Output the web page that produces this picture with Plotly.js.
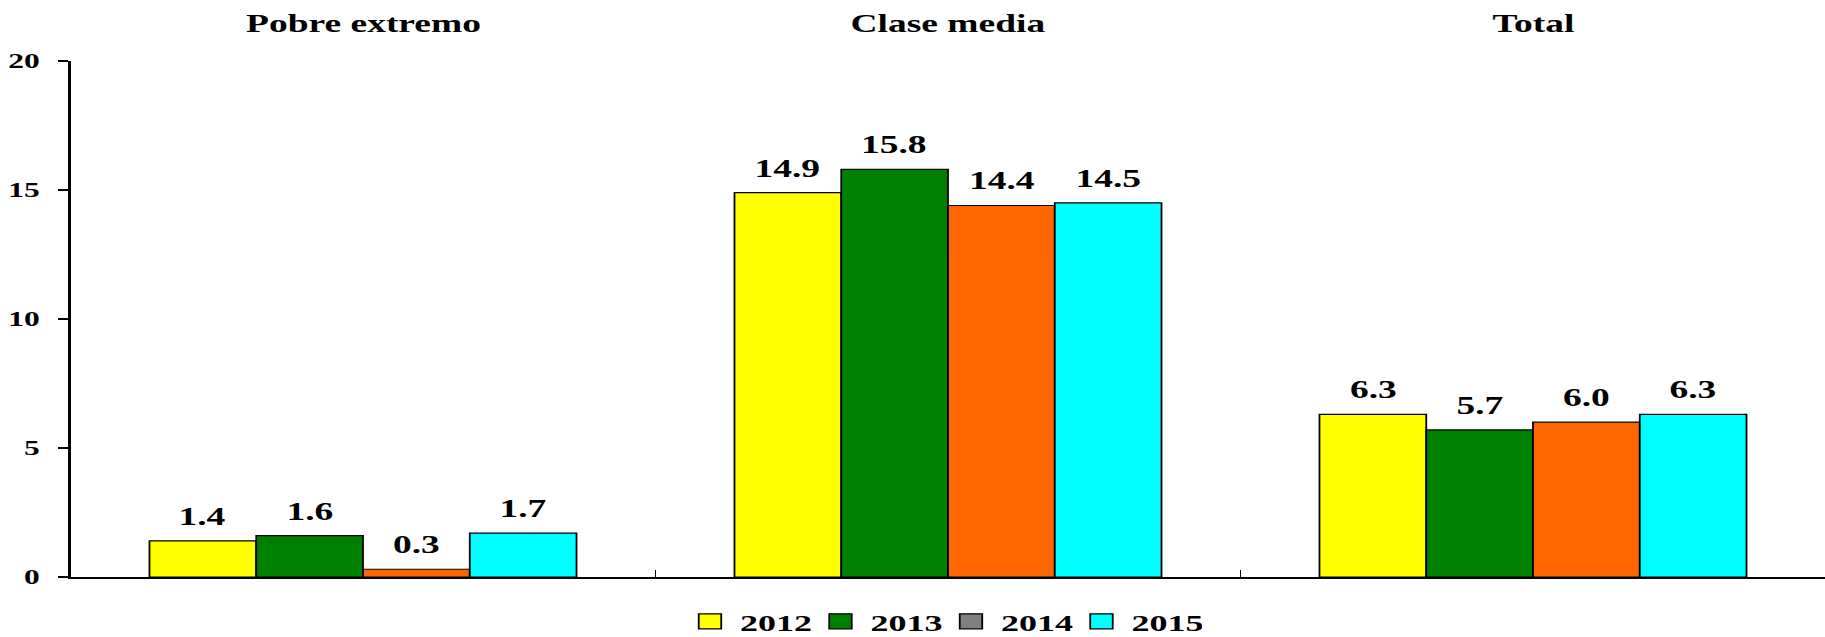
<!DOCTYPE html>
<html>
<head>
<meta charset="utf-8">
<script src="https://cdn.plot.ly/plotly-3.0.1.min.js"></script>
<style>
  html, body { margin: 0; padding: 0; background: #ffffff; overflow: hidden; }
  /* the reference is horizontally stretched, so draw narrow and stretch */
  #chart { width: 1216.67px; height: 637px; transform: scaleX(1.5); transform-origin: 0 0; }
</style>
</head>
<body>
<div id="chart"></div>
<script>
const categories = ["Pobre extremo", "Clase media", "Total"];
const years = ["2012", "2013", "2014", "2015"];
const barColors = ["#ffff00", "#008000", "#ff6600", "#00ffff"];
const legendColors = ["#ffff00", "#008000", "#808080", "#00ffff"];
const values = [
  [1.4, 14.9, 6.3],
  [1.6, 15.8, 5.7],
  [0.3, 14.4, 6.0],
  [1.7, 14.5, 6.3],
];
const yTicks = [0, 5, 10, 15, 20];

const serif = "'Liberation Serif', 'Times New Roman', serif";
const W = 1216.67, H = 637;
const margin = { l: 47, r: 0, t: 61, b: 60 };
const bargap = 0.27;

const traces = years.map((yr, i) => ({
  type: "bar",
  name: yr,
  x: categories,
  y: values[i],
  marker: { color: barColors[i], line: { color: "#000000", width: 1.2 } },
  showlegend: false,
}));

// legend swatches as drawn in the original (2014 shown grey)
years.forEach((yr, i) => {
  traces.push({
    type: "scatter",
    mode: "markers",
    name: yr,
    x: [null],
    y: [null],
    marker: { symbol: "square", size: 15, color: legendColors[i], line: { color: "#000000", width: 1.2 } },
    hoverinfo: "skip",
  });
});

// value labels sit a bit higher above the bars than plotly's outside text
const barW = (W - margin.l - margin.r) / categories.length * (1 - bargap) / years.length;
const labelNotes = [];
years.forEach((yr, i) => {
  categories.forEach((c, j) => {
    labelNotes.push({
      x: c, xref: "x", y: values[i][j], yref: "y",
      xshift: (i - (years.length - 1) / 2) * barW,
      yanchor: "bottom", yshift: 9,
      text: values[i][j].toFixed(1),
      showarrow: false,
      font: { family: serif, size: 25, weight: "bold", color: "#000000" },
    });
  });
});

const titleNotes = categories.map((c) => ({
  x: c, xref: "x", y: 1, yref: "paper",
  yanchor: "bottom", yshift: 22,
  text: c,
  showarrow: false,
  font: { family: serif, size: 25, weight: "bold", color: "#000000" },
}));

const layout = {
  width: W,
  height: H,
  margin,
  paper_bgcolor: "#ffffff",
  plot_bgcolor: "#ffffff",
  font: { family: serif, color: "#000000" },
  barmode: "group",
  bargap,
  bargroupgap: 0,
  showlegend: true,
  legend: {
    orientation: "h",
    xref: "paper",
    yref: "container",
    x: 0.496,
    xanchor: "center",
    y: 0.024,
    yanchor: "middle",
    font: { family: serif, size: 24, weight: "bold" },
    itemwidth: 30,
    entrywidth: 42,
    tracegroupgap: 0,
  },
  xaxis: {
    type: "category",
    showline: true,
    linecolor: "#000000",
    linewidth: 2,
    ticks: "inside",
    tickson: "boundaries",
    ticklen: 7,
    tickwidth: 1.3,
    tickcolor: "#000000",
    showticklabels: false,
    showgrid: false,
    zeroline: false,
  },
  yaxis: {
    range: [0, 20],
    tickvals: yTicks,
    ticks: "outside",
    ticklen: 7,
    tickwidth: 1.3,
    tickcolor: "#000000",
    showline: true,
    linecolor: "#000000",
    linewidth: 1.35,
    showgrid: false,
    zeroline: false,
    ticklabelstandoff: 8,
    tickfont: { family: serif, size: 21, weight: "bold", color: "#000000" },
  },
  annotations: titleNotes.concat(labelNotes),
};

Plotly.newPlot("chart", traces, layout, { displayModeBar: false, staticPlot: true });
</script>
</body>
</html>
